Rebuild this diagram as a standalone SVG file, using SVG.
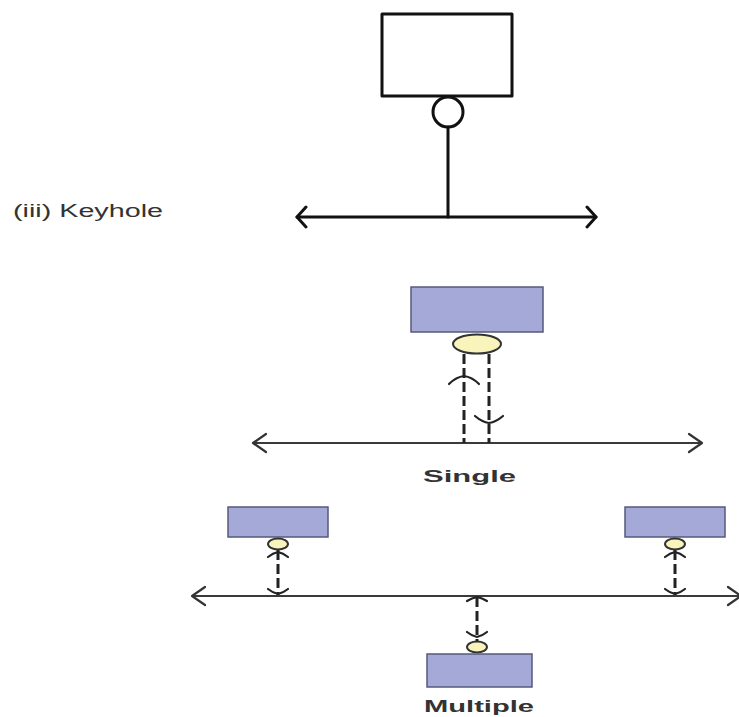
<svg xmlns="http://www.w3.org/2000/svg" width="739" height="717" viewBox="0 0 739 717">
<style>
.ink{fill:none;stroke:#111;stroke-width:3;stroke-linecap:round;stroke-linejoin:round}
.thin{fill:none;stroke:#3a3a3a;stroke-width:2}
.dash{fill:none;stroke:#222;stroke-width:3;stroke-dasharray:10 4}
.chev{fill:none;stroke:#222;stroke-width:2.2;stroke-linecap:round;stroke-linejoin:round}
.box{fill:#a5a9d8;stroke:#555a7a;stroke-width:1.5}
.port{fill:#f9f4bb;stroke:#333;stroke-width:2}
.lbl{font-family:"Liberation Sans",Arial,sans-serif;fill:#333}
</style>
<defs>
<marker id="openA" viewBox="-12 -12 14 24" markerUnits="userSpaceOnUse" markerWidth="14" markerHeight="24" refX="0" refY="0" orient="auto-start-reverse">
<path d="M-9,-10 L0,0 L-9,10" fill="none" stroke="#111" stroke-width="3" stroke-linecap="round" stroke-linejoin="round"/>
</marker>
<marker id="openB" viewBox="-16 -12 18 24" markerUnits="userSpaceOnUse" markerWidth="18" markerHeight="24" refX="0" refY="0" orient="auto-start-reverse">
<path d="M-13,-9 L0,0 L-13,9" fill="none" stroke="#333" stroke-width="2.2" stroke-linecap="round" stroke-linejoin="round"/>
</marker>
</defs>
<rect width="739" height="717" fill="#fff"/>

<text class="lbl" x="13" y="217" font-size="18" textLength="150" lengthAdjust="spacingAndGlyphs">(iii) Keyhole</text>

<g id="keyhole-host">
<rect class="ink" x="382" y="14" width="130" height="82"/>
</g>
<g id="keyhole-port">
<circle class="ink" cx="448" cy="112" r="15"/>
</g>

<g id="single-host">
<rect class="box" x="411" y="287" width="132" height="45"/>
</g>
<g id="single-port">
<ellipse class="port" cx="477" cy="344" rx="24" ry="9.5"/>
</g>
<text class="lbl" x="423" y="482" font-size="17" font-weight="bold" textLength="93" lengthAdjust="spacingAndGlyphs">Single</text>

<g id="multi-host-left">
<rect class="box" x="228" y="507" width="100" height="30"/>
<ellipse class="port" cx="278" cy="544" rx="10" ry="5.5"/>
</g>
<g id="multi-host-right">
<rect class="box" x="625" y="507" width="100" height="30"/>
<ellipse class="port" cx="675" cy="544" rx="10" ry="5.5"/>
</g>
<g id="multi-host-bottom">
<ellipse class="port" cx="477" cy="647" rx="10" ry="5.5"/>
<rect class="box" x="427" y="654" width="105" height="33"/>
</g>
<text class="lbl" x="424" y="712" font-size="17" font-weight="bold" textLength="110" lengthAdjust="spacingAndGlyphs">Multiple</text>

<g id="connectors">
<!-- keyhole -->
<line class="ink" x1="448" y1="127" x2="448" y2="217"/>
<line class="ink" x1="297" y1="217" x2="596" y2="217" marker-start="url(#openA)" marker-end="url(#openA)"/>
<!-- single -->
<line class="thin" x1="253" y1="443" x2="702" y2="443" marker-start="url(#openB)" marker-end="url(#openB)"/>
<line class="dash" x1="464" y1="354" x2="464" y2="443"/>
<line class="dash" x1="489" y1="354" x2="489" y2="443"/>
<path class="chev" d="M449,384 Q456,377 464,376 Q472,377 479,384"/>
<path class="chev" d="M475,416 Q482,422 489,423 Q496,422 503,416"/>
<!-- multiple -->
<line class="thin" x1="192" y1="596" x2="741" y2="596" marker-start="url(#openB)" marker-end="url(#openB)"/>
<line class="dash" x1="278" y1="550" x2="278" y2="595"/>
<path class="chev" d="M268,557 Q273,553 278,552 Q283,553 288,557"/>
<path class="chev" d="M268,589 Q273,593 278,594 Q283,593 288,589"/>
<line class="dash" x1="675" y1="550" x2="675" y2="595"/>
<path class="chev" d="M665,557 Q670,553 675,552 Q680,553 685,557"/>
<path class="chev" d="M665,589 Q670,593 675,594 Q680,593 685,589"/>
<line class="dash" x1="477" y1="597" x2="477" y2="641"/>
<path class="chev" d="M467,601 Q472,598 477,597 Q482,598 487,601"/>
<path class="chev" d="M467,632 Q472,636 477,637 Q482,636 487,632"/>
</g>
</svg>
